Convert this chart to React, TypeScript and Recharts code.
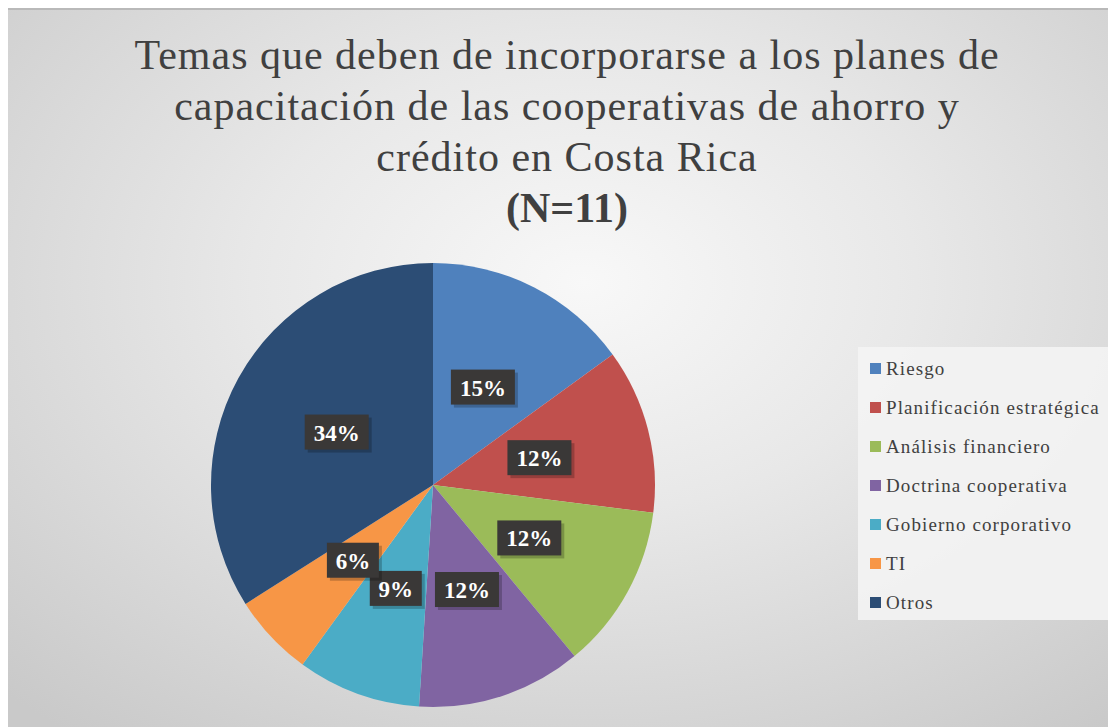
import { Cell, Legend, Pie, PieChart } from 'recharts';

const temas = [
  'Riesgo',
  'Planificación estratégica',
  'Análisis financiero',
  'Doctrina cooperativa',
  'Gobierno corporativo',
  'TI',
  'Otros',
];
const porcentajes = [15, 12, 12, 12, 9, 6, 34];
const colores = ['#4F81BD', '#C0504D', '#9BBB59', '#8064A2', '#4BACC6', '#F79646', '#2C4D75'];
const titulo = [
  'Temas que deben de incorporarse a los planes de',
  'capacitación de las cooperativas de ahorro y',
  'crédito en Costa Rica',
];
const subtitulo = '(N=11)';

const data = temas.map((name, i) => ({ name, value: porcentajes[i] }));

const W = 1108;
const H = 719;
const RAD = Math.PI / 180;
const SERIF = "'Liberation Serif', serif";

function renderLabel(props: any) {
  const { cx, cy, midAngle, outerRadius, value } = props;
  const r = outerRadius * 0.495;
  const x = cx + r * Math.cos(-midAngle * RAD);
  const y = cy + r * Math.sin(-midAngle * RAD);
  const text = `${value}%`;
  const w = text.length === 2 ? 52 : 64;
  const h = 35;
  return (
    <g>
      <rect x={x - w / 2 + 3} y={y - h / 2 + 3} width={w} height={h} fill="rgba(0,0,0,0.22)" />
      <rect x={x - w / 2} y={y - h / 2} width={w} height={h} fill="#3a3837" />
      <text
        x={x}
        y={y + 1}
        textAnchor="middle"
        dominantBaseline="central"
        fill="#ffffff"
        style={{ fontFamily: SERIF }}
        fontWeight="bold"
        fontSize={23}
      >
        {text}
      </text>
    </g>
  );
}

function LegendBox() {
  return (
    <div
      style={{
        width: 255,
        height: 273,
        background: 'rgba(243,243,243,0.92)',
        boxSizing: 'border-box',
        paddingTop: 2,
        fontFamily: SERIF,
      }}
    >
      {temas.map((t, i) => (
        <div key={t} style={{ display: 'flex', alignItems: 'center', height: 39, paddingLeft: 12 }}>
          <span style={{ width: 11, height: 11, background: colores[i], marginRight: 5, flexShrink: 0 }} />
          <span style={{ fontSize: 19, letterSpacing: 1.1, color: '#404040', whiteSpace: 'nowrap' }}>{t}</span>
        </div>
      ))}
    </div>
  );
}

export default function App() {
  return (
    <div
      style={{
        position: 'relative',
        width: W,
        height: H,
        background: 'radial-gradient(ellipse 75% 80% at 52% 38%, #f8f8f8 0%, #e8e8e8 40%, #c9c9c9 100%)',
        borderTop: '2px solid #b9b9b9',
        boxSizing: 'border-box',
        overflow: 'hidden',
        fontFamily: SERIF,
      }}
    >
      <div
        style={{
          position: 'absolute',
          top: 20,
          left: 0,
          width: W + 10,
          textAlign: 'center',
          fontFamily: SERIF,
          fontSize: 42,
          letterSpacing: 1,
          lineHeight: '51px',
          color: '#404040',
        }}
      >
        {titulo.map((l) => (
          <div key={l}>{l}</div>
        ))}
        <div style={{ fontWeight: 'bold', letterSpacing: 0 }}>{subtitulo}</div>
      </div>
      <PieChart
        width={W}
        height={H}
        margin={{ top: 0, right: 0, bottom: 0, left: 0 }}
        style={{ position: 'absolute', top: -2, left: 0 }}
      >
        <Pie
          data={data}
          dataKey="value"
          nameKey="name"
          cx={425}
          cy={477}
          outerRadius={222}
          startAngle={90}
          endAngle={-270}
          stroke="none"
          label={renderLabel}
          labelLine={false}
          isAnimationActive={false}
        >
          {data.map((_, i) => (
            <Cell key={i} fill={colores[i]} />
          ))}
        </Pie>
        <Legend
          content={() => <LegendBox />}
          wrapperStyle={{ position: 'absolute', left: 850, top: 339, width: 255, height: 273 }}
        />
      </PieChart>
    </div>
  );
}
